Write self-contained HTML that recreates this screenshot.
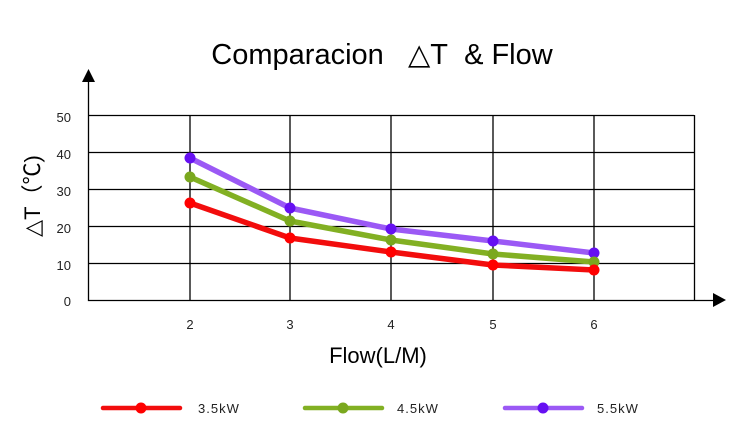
<!DOCTYPE html>
<html><head><style>body{margin:0;background:#fff}svg{display:block}</style></head><body>
<svg width="750" height="444" xmlns="http://www.w3.org/2000/svg" font-family="Liberation Sans, sans-serif">
<text x="382" y="64" font-size="29" text-anchor="middle" fill="#000">Comparacion&#160;&#160;&#160;△T&#160;&#160;&amp;&#160;Flow</text>
<g stroke="#000" stroke-width="1.3" fill="none">
<path d="M88 115.5H694M88 152.5H694M88 189.5H694M88 226.5H694M88 263.5H694"/>
<path d="M190 115V300M290 115V300M391 115V300M493 115V300M594 115V300M694.5 115V300"/>
<path d="M88.5 78V300.5H716"/>
</g>
<polygon points="82,82 95,82 88.5,69" fill="#000"/>
<polygon points="713,293 713,307 726,300" fill="#000"/>
<g font-size="13" fill="#222" text-anchor="end">
<text x="71" y="122">50</text><text x="71" y="159">40</text><text x="71" y="196">30</text><text x="71" y="233">20</text><text x="71" y="270">10</text><text x="71" y="306">0</text>
</g>
<g font-size="13" fill="#222" text-anchor="middle">
<text x="190" y="329">2</text><text x="290" y="329">3</text><text x="391" y="329">4</text><text x="493" y="329">5</text><text x="594" y="329">6</text>
</g>
<text transform="translate(40,196) rotate(-90)" font-size="22" text-anchor="middle" fill="#000">△T（℃)</text>
<text x="378" y="363" font-size="22" text-anchor="middle" fill="#000">Flow(L/M)</text>
<g fill="none" stroke-width="5.5" stroke-linejoin="round" stroke-linecap="round">
<polyline stroke="#9b59f5" points="190,158 290,208 391,229 493,241 594,253"/>
<polyline stroke="#82b023" points="190,177 290,221 391,240 493,254 594,262"/>
<polyline stroke="#f20d0d" points="190,203 290,238 391,252 493,265 594,270"/>
</g>
<g fill="#6610f2"><circle cx="190" cy="158" r="5.5"/><circle cx="290" cy="208" r="5.5"/><circle cx="391" cy="229" r="5.5"/><circle cx="493" cy="241" r="5.5"/><circle cx="594" cy="253" r="5.5"/></g>
<g fill="#7aa81e"><circle cx="190" cy="177" r="5.5"/><circle cx="290" cy="221" r="5.5"/><circle cx="391" cy="240" r="5.5"/><circle cx="493" cy="254" r="5.5"/><circle cx="594" cy="262" r="5.5"/></g>
<g fill="#f00"><circle cx="190" cy="203" r="5.5"/><circle cx="290" cy="238" r="5.5"/><circle cx="391" cy="252" r="5.5"/><circle cx="493" cy="265" r="5.5"/><circle cx="594" cy="270" r="5.5"/></g>
<g stroke-width="4.5" stroke-linecap="round">
<line x1="103" y1="408" x2="180" y2="408" stroke="#f20d0d"/><circle cx="141" cy="408" r="5.5" fill="#f00"/>
<line x1="305" y1="408" x2="382" y2="408" stroke="#82b023"/><circle cx="343" cy="408" r="5.5" fill="#7aa81e"/>
<line x1="505" y1="408" x2="582" y2="408" stroke="#9b59f5"/><circle cx="543" cy="408" r="5.5" fill="#6610f2"/>
</g>
<g font-size="13" fill="#222" letter-spacing="1">
<text x="198" y="413">3.5kW</text><text x="397" y="413">4.5kW</text><text x="597" y="413">5.5kW</text>
</g>
</svg>
</body></html>
